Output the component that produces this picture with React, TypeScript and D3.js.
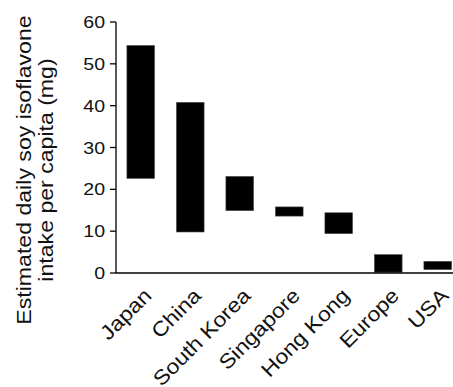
import React from "react";
import * as d3 from "d3";

const countries = ["Japan", "China", "South Korea", "Singapore", "Hong Kong", "Europe", "USA"];
const lowValues = [22.6, 9.8, 14.9, 13.6, 9.4, 0.2, 0.8];
const highValues = [54.4, 40.8, 23.1, 15.8, 14.4, 4.4, 2.8];
const yTicks = [0, 10, 20, 30, 40, 50, 60];

const W = 453;
const H = 387;
const FONT = "Liberation Sans, Arial, sans-serif";

export default function App() {
  const x = d3.scaleBand<string>().domain(countries).range([116, 462.5]).paddingInner(0.44).paddingOuter(0.22);
  const y = d3.scaleLinear().domain([0, 60]).range([273, 22]);
  const axisX = 116;
  const axisY = y(0);

  return (
    <div style={{ position: "fixed", left: 0, top: 0 }}>
      <svg width={W} height={H} style={{ display: "block", background: "#fff" }}>
        {/* bars */}
        {countries.map((c, i) => (
          <rect
            key={c}
            x={x(c)}
            y={y(highValues[i])}
            width={x.bandwidth()}
            height={y(lowValues[i]) - y(highValues[i])}
            fill="#000"
            stroke="#555"
            strokeWidth={0.6}
          />
        ))}

        {/* y axis */}
        <line x1={axisX} x2={axisX} y1={y(60)} y2={axisY} stroke="#000" strokeWidth={1.3} />
        {yTicks.map((t) => (
          <g key={t} transform={`translate(${axisX},${y(t)})`}>
            <line x1={-6} x2={0} stroke="#000" strokeWidth={1.3} />
            <text
              transform="translate(-11,0) scale(1.15,1)"
              dy="0.36em"
              textAnchor="end"
              fontFamily={FONT}
              fontSize={17}
              fill="#111"
            >
              {t}
            </text>
          </g>
        ))}

        {/* x axis */}
        <line x1={axisX} x2={W} y1={axisY} y2={axisY} stroke="#000" strokeWidth={1.3} />
        {countries.map((c) => {
          const cx = (x(c) ?? 0) + x.bandwidth() / 2;
          return (
            <text
              key={c}
              transform={`translate(${cx + 12},${axisY + 24}) rotate(-45) scale(1.12,1)`}
              textAnchor="end"
              fontFamily={FONT}
              fontSize={20.5}
              fill="#111"
            >
              {c}
            </text>
          );
        })}

        {/* y title */}
        <g transform={`translate(31,170) rotate(-90) scale(1.1,1)`} fontFamily={FONT} fontSize={21} fill="#111" textAnchor="middle">
          <text x={0} y={0}>Estimated daily soy isoflavone</text>
          <text x={0} y={22}>intake per capita (mg)</text>
        </g>
      </svg>
    </div>
  );
}
